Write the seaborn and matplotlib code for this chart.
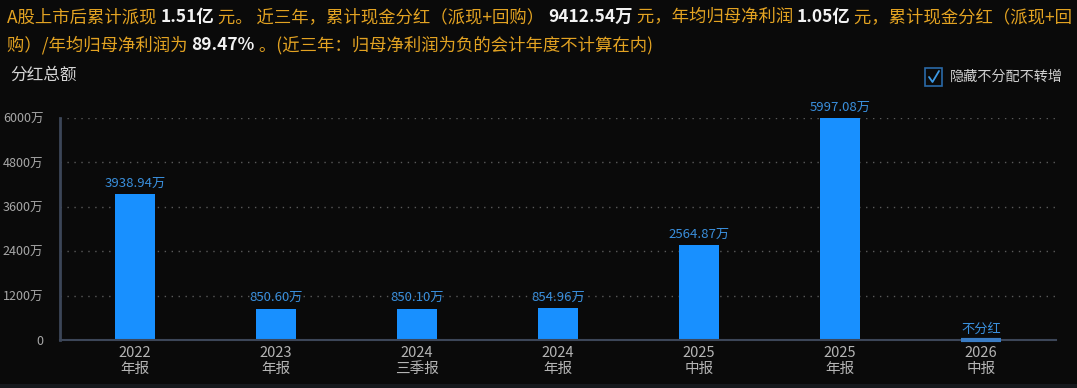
import matplotlib
matplotlib.use("Agg")
import matplotlib.pyplot as plt
import seaborn as sns
import pandas as pd
from matplotlib.patches import Rectangle
from matplotlib.lines import Line2D

# ---------------- data ----------------
years = ["2022", "2023", "2024", "2024", "2025", "2025", "2026"]
periods = ["年报", "年报", "三季报", "年报", "中报", "年报", "中报"]
values = [3938.94, 850.60, 850.10, 854.96, 2564.87, 5997.08, 0.0]
value_labels = ["3938.94万", "850.60万", "850.10万", "854.96万", "2564.87万", "5997.08万", "不分红"]
y_ticks = [0, 1200, 2400, 3600, 4800, 6000]
y_tick_labels = ["0", "1200万", "2400万", "3600万", "4800万", "6000万"]

line1 = [("A股上市后累计派现 ", "gold", "normal"), ("1.51亿", "white", "bold"),
         (" 元。 近三年，累计现金分红（派现+回购） ", "gold", "normal"),
         ("9412.54万", "white", "bold"), (" 元，年均归母净利润 ", "gold", "normal"),
         ("1.05亿", "white", "bold"), (" 元，累计现金分红（派现+回", "gold", "normal")]
line2 = [("购）/年均归母净利润为 ", "gold", "normal"), ("89.47%", "white", "bold"),
         (" 。(近三年：归母净利润为负的会计年度不计算在内)", "gold", "normal")]

# ---------------- style ----------------
BG = "#0a0a0a"
BAR = "#1890ff"
LABEL_BLUE = "#3a8fdc"
GOLD = "#e3a322"
WHITE = "#f2f2f2"
AXIS = "#3c4658"

sns.set_theme(style="dark")
plt.rcParams["font.family"] = ["Noto Sans CJK SC", "DejaVu Sans"]

W, H = 1077, 388
fig = plt.figure(figsize=(W / 100, H / 100), dpi=100, facecolor=BG)
ax = fig.add_axes([60 / W, (H - 340) / H, (1056 - 60) / W, (340 - 118) / H])
ax.set_facecolor(BG)

df = pd.DataFrame({"cat": [f"{y}\n{p}" for y, p in zip(years, periods)], "value": values})
sns.barplot(data=df, x="cat", y="value", color=BAR, saturation=1, width=0.28,
            linewidth=0, edgecolor="none", ax=ax)

# stub for the "no dividend" bar
for v, patch in zip(values, ax.patches):
    if v == 0:
        patch.set_edgecolor("#3a7cc4")
        patch.set_linewidth(3)
        patch.set_clip_on(False)
        patch.set_zorder(5)

ax.bar_label(ax.containers[0], labels=value_labels, padding=3, color=LABEL_BLUE, fontsize=9.5)

pad = 4.5 / 141
ax.set_xlim(-0.5 - pad, len(values) - 0.5 + pad)
ax.set_ylim(0, 6000)
ax.set_yticks(y_ticks)
ax.set_yticklabels(y_tick_labels)
ax.set_xlabel("")
ax.set_ylabel("")
ax.tick_params(axis="y", colors="#a8a8a8", labelsize=9, length=0, pad=12)
ax.tick_params(axis="x", colors="#b4b4b4", labelsize=10.5, length=0, pad=4)
for lbl in ax.get_xticklabels():
    lbl.set_linespacing(1.2)

ax.grid(False)
for yv in y_ticks[1:]:
    ax.axhline(yv, color="#5a5a5a", linestyle=(0, (1, 4)), linewidth=1, zorder=0)

for s in ["top", "right"]:
    ax.spines[s].set_visible(False)
ax.spines["left"].set_color(AXIS)
ax.spines["left"].set_linewidth(2)
ax.spines["bottom"].set_color(AXIS)
ax.spines["bottom"].set_linewidth(1.5)


# ---------------- header text ----------------
def rainbow(x, y, parts, size=12.5):
    colors = {"gold": GOLD, "white": WHITE}
    s, c, w = parts[0]
    t = ax.text(x, y, s, transform=fig.transFigure, color=colors[c], fontweight=w,
                fontsize=size, va="bottom", ha="left")
    for s, c, w in parts[1:]:
        t = ax.annotate(s, xy=(1, 0), xycoords=t, va="bottom", ha="left",
                        color=colors[c], fontweight=w, fontsize=size, annotation_clip=False)


rainbow(7 / W, 1 - 26 / H, line1)
rainbow(7 / W, 1 - 54 / H, line2)

fig.text(10 / W, 1 - 75 / H, "分红总额", color="#d6d6d6", fontsize=12, va="center", ha="left")

# checkbox
fig.patches.append(Rectangle((925 / W, 1 - 86 / H), 17 / W, 18 / H, transform=fig.transFigure,
                             fill=False, edgecolor="#2a6aa8", linewidth=1.2))
fig.lines.append(Line2D([929 / W, 932.5 / W, 939 / W], [1 - 77 / H, 1 - 82 / H, 1 - 71 / H],
                        transform=fig.transFigure, color="#3d9ae6", linewidth=1.3))
fig.text(950 / W, 1 - 77 / H, "隐藏不分配不转增", color="#cfcfcf", fontsize=10.2, va="center", ha="left")

# bottom strip
fig.patches.append(Rectangle((0, 0), 1, 4 / H, transform=fig.transFigure,
                             facecolor="#16191d", edgecolor="none"))

fig.savefig("out.png", dpi=100, facecolor=BG)
